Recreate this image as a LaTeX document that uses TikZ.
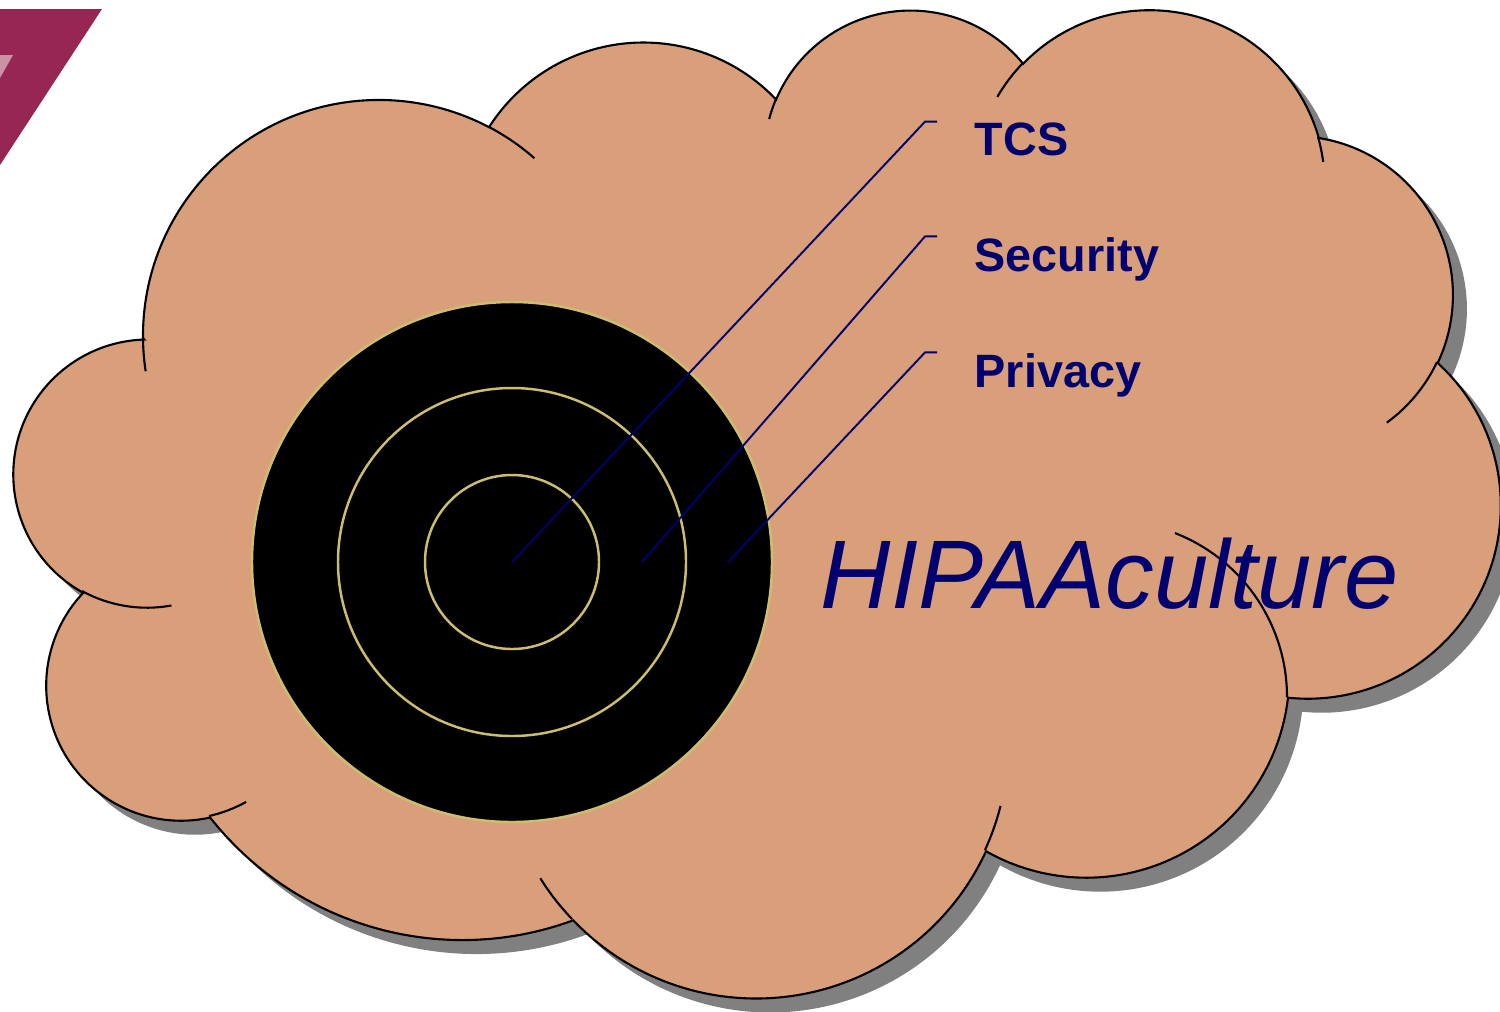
\documentclass[tikz,border=0pt]{standalone}
\usepackage{fontspec}
\setmainfont{Liberation Sans}
\usetikzlibrary{calc}
\definecolor{cloudtan}{RGB}{217,159,123}
\definecolor{shadowgrey}{RGB}{128,128,128}
\definecolor{ringkhaki}{RGB}{204,190,110}
\definecolor{labelnavy}{RGB}{0,0,110}
\definecolor{logomaroon}{RGB}{150,38,84}
\definecolor{logopink}{RGB}{205,145,165}
\tikzset{
    cloud-line/.style = {draw=black, line width=0.6pt},
    ring-line/.style = {draw=ringkhaki, line width=0.7pt},
    leader-line/.style = {draw=labelnavy, line width=0.55pt},
    label-text/.style = {text=labelnavy, font=\fontsize{13.3}{15}\selectfont\bfseries, inner sep=0pt, anchor=base west},
    title-text/.style = {text=labelnavy, font=\fontsize{27.7}{32}\selectfont\itshape, inner sep=0pt, anchor=base west},
}
\newcommand\cloudpath{(143,-338)
    arc[start angle=180.5, end angle=62.2, radius=236]
    arc[start angle=147.5, end angle=43.5, radius=183]
    arc[start angle=157, end angle=39.5, radius=146]
    arc[start angle=135.9, end angle=15.9, radius=176]
    arc[start angle=81, end angle=-25.3, radius=159]
    arc[start angle=47.7, end angle=-95.9, radius=193]
    arc[start angle=-6.5, end angle=-119.6, radius=203]
    arc[start angle=-24.7, end angle=-136.3, radius=253]
    arc[start angle=-69.8, end angle=-141.8, radius=321]
    arc[start angle=-77.6, end angle=-223.5, radius=135]
    arc[start angle=241.2, end angle=91.7, radius=135] -- cycle}

\begin{document}
\begin{tikzpicture}[x=0.01cm, y=0.01cm]
\useasboundingbox (0,0) rectangle (1500,-1011);
% corner of the logo
\fill[logomaroon] (0,-9) -- (102,-9) -- (0,-165) -- cycle;
\fill[logopink] (0,-55) -- (13,-55) -- (0,-78) -- cycle;
% cloud with its shadow
\fill[shadowgrey, shift={(14,-14)}] \cloudpath;
\path[fill=cloudtan, cloud-line] \cloudpath;
\draw[cloud-line] (143,-338) arc[start angle=180.5, end angle=188.6, radius=236];
\draw[cloud-line] (489,-127) arc[start angle=62.2, end angle=48.8, radius=236];
\draw[cloud-line] (776,-99) arc[start angle=157, end angle=165.3, radius=146];
\draw[cloud-line] (1023,-63) arc[start angle=135.9, end angle=149.8, radius=176];
\draw[cloud-line] (1318,-137) arc[start angle=15.9, end angle=7.6, radius=176];
\draw[cloud-line] (1437,-362) arc[start angle=-25.3, end angle=-54, radius=159];
\draw[cloud-line] (1287,-697) arc[start angle=0, end angle=68.7, radius=176];
\draw[cloud-line] (985,-850) arc[start angle=-24.7, end angle=-14.1, radius=253];
\draw[cloud-line] (572,-919) arc[start angle=-136.3, end angle=-148, radius=253];
\draw[cloud-line] (209,-816) arc[start angle=-77.6, end angle=-60.7, radius=135];
\draw[cloud-line] (82,-591) arc[start angle=241.2, end angle=280.4, radius=135];
% target
\coordinate (bull) at (512,-562);
\path[fill=black, ring-line] (bull) circle[radius=260];
\draw[ring-line] (bull) circle[radius=174];
\draw[ring-line] (bull) circle[radius=87];
\coordinate (tcs-pt) at (512,-562);
\coordinate (security-pt) at (642,-562);
\coordinate (privacy-pt) at (728,-562);
% labels
\node[label-text] (tcs) at (974,-155) {TCS};
\node[label-text] (security) at (974,-271) {Security};
\node[label-text] (privacy) at (974,-387) {Privacy};
\node[title-text] (culture) at (820,-608) {HIPAAculture};
\draw[leader-line] (tcs-pt) -- ($(tcs.north west)+(-49,0)$) -- ($(tcs.north west)+(-37,0)$);
\draw[leader-line] (security-pt) -- ($(security.north west)+(-49,0)$) -- ($(security.north west)+(-37,0)$);
\draw[leader-line] (privacy-pt) -- ($(privacy.north west)+(-49,0)$) -- ($(privacy.north west)+(-37,0)$);
\end{tikzpicture}
\end{document}
